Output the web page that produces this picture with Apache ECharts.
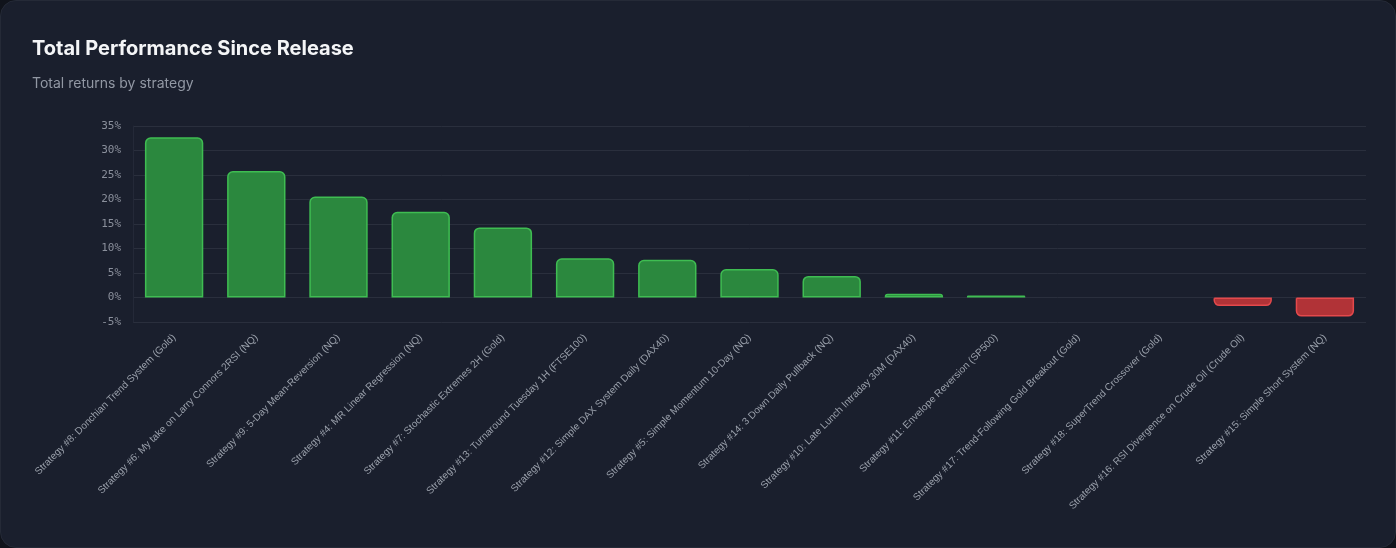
<!DOCTYPE html>
<html>
<head>
<meta charset="utf-8">
<script src="https://cdn.jsdelivr.net/npm/echarts@6/dist/echarts.min.js"></script>
<style>
  html, body { margin: 0; padding: 0; background: #10131b; }
  #card {
    width: 1396px; height: 548px; box-sizing: border-box;
    background: #1a1f2d; border: 1px solid #252a37; border-radius: 16px;
    overflow: hidden;
  }
  #chart { width: 100%; height: 100%; }
</style>
</head>
<body>
<div id="card"><div id="chart"></div></div>
<script>
// strategies, sorted by total return
var strategies = [
  'Strategy #8: Donchian Trend System (Gold)',
  'Strategy #6: My take on Larry Connors 2RSI (NQ)',
  'Strategy #9: 5-Day Mean-Reversion (NQ)',
  'Strategy #4: MR Linear Regression (NQ)',
  'Strategy #7: Stochastic Extremes 2H (Gold)',
  'Strategy #13: Turnaround Tuesday 1H (FTSE100)',
  'Strategy #12: Simple DAX System Daily (DAX40)',
  'Strategy #5: Simple Momentum 10-Day (NQ)',
  'Strategy #14: 3 Down Daily Pullback (NQ)',
  'Strategy #10: Late Lunch Intraday 30M (DAX40)',
  'Strategy #11: Envelope Reversion (SP500)',
  'Strategy #17: Trend-Following Gold Breakout (Gold)',
  'Strategy #18: SuperTrend Crossover (Gold)',
  'Strategy #16: RSI Divergence on Crude Oil (Crude Oil)',
  'Strategy #15: Simple Short System (NQ)'
];
// total return in %
var totalReturns = [32.7, 25.8, 20.6, 17.5, 14.3, 8.0, 7.7, 5.8, 4.4, 0.75, 0.4, 0, 0, -1.75, -3.9];

var yMin = -5, yMax = 35, yStep = 5;

var barData = totalReturns.map(function(v){
    var pos = v >= 0;
    return {
        value: v,
        itemStyle: {
            color: pos ? '#2b883e' : '#b13337',
            borderColor: pos ? '#3fbd52' : '#e4494c',
            borderWidth: v === 0 ? 0 : 1.5,   // flat bars draw nothing
            borderRadius: pos ? [5,5,0,0] : [0,0,5,5]
        }
    };
});

var chart = echarts.init(document.getElementById('chart'), null, {renderer:'canvas'});
chart.setOption({
    backgroundColor: 'transparent',
    title: {
        text: 'Total Performance Since Release',
        subtext: 'Total returns by strategy',
        left: 26, top: 33,
        itemGap: 18,
        textStyle: { color: '#f4f5f7', fontSize: 20, fontWeight: 'bold', fontFamily: 'Inter' },
        subtextStyle: { color: '#9298a4', fontSize: 14, fontFamily: 'Inter' }
    },
    grid: { left: 132, right: 29, top: 125, bottom: 225, containLabel: false },
    xAxis: {
        type: 'category',
        data: strategies,
        axisLine: { show: false },
        axisTick: { show: false },
        axisLabel: {
            interval: 0, rotate: 45, margin: 14,
            color: '#9aa0ab', fontSize: 10, fontFamily: 'Liberation Sans'
        }
    },
    yAxis: {
        type: 'value',
        min: yMin, max: yMax, interval: yStep,
        axisLine: { show: true, lineStyle: { color: '#242938' } },
        axisTick: { show: false },
        splitLine: { lineStyle: { color: '#2a2f3d', width: 1 } },
        axisLabel: {
            formatter: '{value}%', margin: 12,
            color: '#8b909c', fontSize: 11, fontFamily: 'DejaVu Sans Mono'
        }
    },
    series: [{
        type: 'bar',
        data: barData,
        barCategoryGap: '29%'
    }]
});
</script>
</body>
</html>
